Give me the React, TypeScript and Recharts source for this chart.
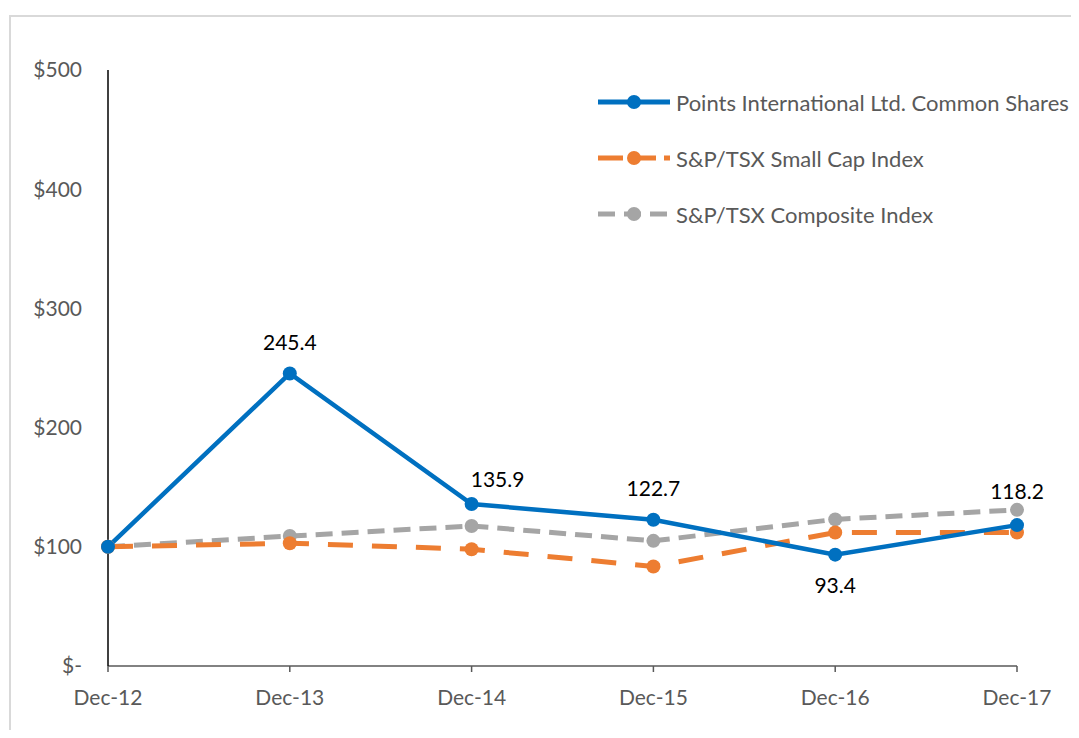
import React from 'react';
import { LineChart, Line, XAxis, YAxis, LabelList } from 'recharts';

const categories = ['Dec-12', 'Dec-13', 'Dec-14', 'Dec-15', 'Dec-16', 'Dec-17'];
const pointsShares = [100, 245.4, 135.9, 122.7, 93.4, 118.2];
const smallCap = [100, 103, 98, 83.5, 112, 112];
const composite = [100, 109, 117.5, 105, 123, 131];
const yTicks = [0, 100, 200, 300, 400, 500];

const seriesNames = [
  'Points International Ltd. Common Shares',
  'S&P/TSX Small Cap Index',
  'S&P/TSX Composite Index',
];

const data = categories.map((c, i) => ({
  name: c,
  pts: pointsShares[i],
  small: smallCap[i],
  comp: composite[i],
}));

const FONT = 'Lato, "Open Sans", sans-serif';
const BLUE = '#0070C0';
const ORANGE = '#ED7D31';
const GRAY = '#A5A5A5';
const TEXT = '#595959';

// label placement per point (style only)
const labelPlacement = ['none', 'top', 'topRight', 'top', 'bottom', 'top'];

const PointLabel = (props: any) => {
  const { x, y, value, index } = props;
  const p = labelPlacement[index];
  if (p === 'none') return null;
  let dx = 0;
  let dy = -32;
  if (p === 'topRight') { dx = 26; dy = -26; }
  if (p === 'bottom') { dy = 30; }
  if (index === 5) dy = -35;
  return (
    <text x={x + dx} y={y + dy} textAnchor="middle" dominantBaseline="central"
      fontFamily={FONT} fontSize={21} fill="#000">
      {Number(value).toFixed(1)}
    </text>
  );
};

const LegendBox = () => {
  const items = [
    { name: seriesNames[0], color: BLUE, dash: undefined as string | undefined },
    { name: seriesNames[1], color: ORANGE, dash: '25 8' },
    { name: seriesNames[2], color: GRAY, dash: '17 9' },
  ];
  return (
    <div style={{ position: 'absolute', left: 590, top: 66, fontFamily: FONT }}>
      {items.map((it, i) => (
        <div key={i} style={{ display: 'flex', alignItems: 'center', height: 56 }}>
          <svg width={78} height={20} style={{ display: 'block', flexShrink: 0 }}>
            <line x1={0} y1={10} x2={72} y2={10} stroke={it.color} strokeWidth={5}
              strokeDasharray={it.dash} />
            <circle cx={36} cy={10} r={7} fill={it.color} />
          </svg>
          <span style={{ fontSize: 22, color: TEXT, whiteSpace: 'nowrap' }}>{it.name}</span>
        </div>
      ))}
    </div>
  );
};

export default function App() {
  return (
    <div style={{ position: 'relative', width: 1071, height: 722, overflow: 'hidden', background: '#fff' }}>
      <div style={{
        position: 'absolute', left: 1, top: 7, width: 1100, height: 800,
        border: '2px solid #D9D9D9', boxSizing: 'border-box',
      }} />
      <div style={{ position: 'absolute', left: 0, top: 0 }}>
        <LineChart width={1071} height={722} data={data}
          margin={{ top: 62, right: 62, bottom: 24, left: 0 }}>
          <XAxis dataKey="name" stroke="#595959" strokeWidth={1.5} height={40}
            tickSize={6} tickMargin={18}
            tick={{ fill: TEXT, fontSize: 21, fontFamily: FONT }} />
          <YAxis domain={[0, 500]} ticks={yTicks} width={100} interval={0}
            axisLine={{ stroke: '#000', strokeWidth: 1.5 }} tickLine={false}
            tickSize={0} tickMargin={26}
            tick={{ fill: TEXT, fontSize: 21, fontFamily: FONT }}
            tickFormatter={(v: number) => (v === 0 ? '$-' : `$${v}`)} />
          <Line dataKey="comp" stroke={GRAY} strokeWidth={5} strokeDasharray="17 9"
            dot={{ r: 7, fill: GRAY, stroke: GRAY, strokeWidth: 0 }} isAnimationActive={false} />
          <Line dataKey="small" stroke={ORANGE} strokeWidth={5} strokeDasharray="25 19"
            dot={{ r: 7, fill: ORANGE, stroke: ORANGE, strokeWidth: 0 }} isAnimationActive={false} />
          <Line dataKey="pts" stroke={BLUE} strokeWidth={4.5}
            dot={{ r: 7, fill: BLUE, stroke: BLUE, strokeWidth: 0 }} isAnimationActive={false}>
            <LabelList dataKey="pts" content={PointLabel} />
          </Line>
        </LineChart>
      </div>
      <LegendBox />
    </div>
  );
}
